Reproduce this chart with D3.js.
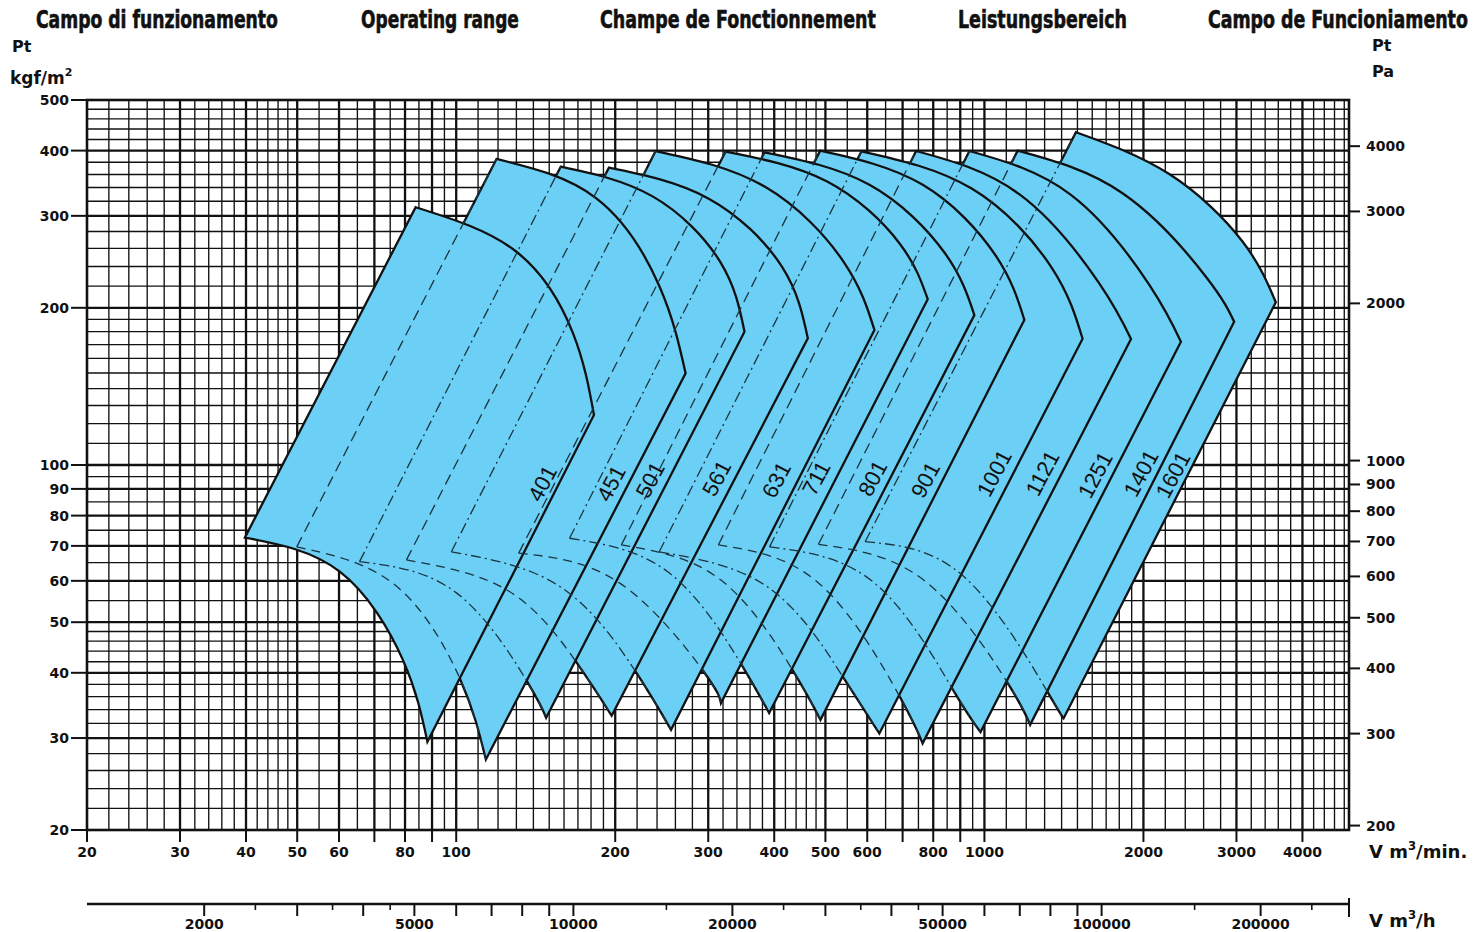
<!DOCTYPE html>
<html>
<head>
<meta charset="utf-8">
<title>Campo di funzionamento</title>
<script src="https://d3js.org/d3.v7.min.js"></script>
<style>
body {margin:0; background:#fff;}
svg text {fill:#111;}
.num {font-family:"DejaVu Sans", sans-serif; font-weight:bold; font-size:14px;}
.unit {font-family:"DejaVu Sans", sans-serif; font-weight:bold;}
.title {font-family:"Liberation Sans Narrow","DejaVu Sans Condensed","Liberation Sans",sans-serif; font-weight:bold; font-size:24px; stroke:#111; stroke-width:0.6px;}
.size {font-family:"Liberation Sans",Arial,sans-serif; font-size:22px;}
</style>
</head>
<body>
<svg id="chart" width="1474" height="932"></svg>
<script>
// fan sizes, front (401) to back (1601)
var sizes = ["401","451","501","561","631","711","801","901","1001","1121","1251","1401","1601"];

// corners of each operating field, [V m3/min, pt kgf/m2]
var bottomLeft = [[39.8,72.6],[49.9,69.7],[65.6,65.3],[80.5,65.8],[97.9,68.2],[131.3,67.8],[163.9,72.4],
  [205.4,70.3],[242.3,68.2],[313.5,70.3],[391.9,69.7],[485.1,70.5],[594.5,71.3]];
var topLeft = [[83.8,311.6],[119.2,385.5],[157.7,372.6],[194.6,371],[238.5,399.3],[323.5,398.1],[383.4,397.1],
  [488.7,399.9],[585,398.8],[742.4,399.3],[936.6,399.3],[1155.7,399.9],[1490.3,433.7]];
var rightTip = [[182.3,124.7],[271.8,149.8],[351.4,180],[463.1,174.8],[619.1,181.4],[781,207.7],[957.1,193.7],
  [1190,189.6],[1534,174.5],[1894.5,174.3],[2355,172.2],[2970,188.1],[3561.6,205]];
var bottomTip = [[88.2,29.5],[113.8,27.3],[148,32.8],[196.9,33.1],[255.1,31.1],[317.1,35],[391.2,33.5],
  [489.3,32.5],[632.5,30.6],[763.7,29.3],[983.2,30.8],[1220.5,31.8],[1411.7,32.7]];

// points (left to right) and the lower curve
var topArc = [
  [[130,256.1],[166.4,178.7]], [[184.2,324.1],[242.7,219.5]], [[235.4,326.9],[316.5,244.4]],
  [[300.1,324],[413.6,239.8]], [[384.3,341],[541.7,244.7]], [[502.7,349.5],[690.3,265.9]],
  [[605.8,344.1],[842,254.4]], [[762.9,344.3],[1050.6,251.7]], [[947.7,338],[1340.4,238.8]],
  [[1164,330.1],[1646,223.5]], [[1458,329.1],[2050.4,221.6]], [[1826,331.4],[2626,229.4]],
  [[2238,360.7],[3075,268.5]]];
var bottomArc = [
  [[60.2,62.5],[79.3,42.3]], [[76.6,58.9],[101.5,39.1]], [[100.1,56.9],[136,38.6]],
  [[125.9,57.3],[168.3,42.1]], [[158,58.3],[217.6,40.5]], [[204,59.4],[292.6,40.5]],
  [[253.3,62.1],[346.1,41.6]], [[317.1,60.2],[434.5,40.3]], [[391.5,58.1],[538.6,39.4]],
  [[489.3,59],[690.3,36.1]], [[620.8,59.3],[868,37.4]], [[769.4,60.1],[1100.4,38.6]],
  [[916.4,61],[1309.6,37.1]]];

var labelPos = [[145.7,92.2],[196.6,92.2],[233,93.6],[311.5,94.3],[404,93.6],[480.9,94.3],[614.8,94.3],
  [773.1,93.6],[1044.3,96.4],[1288.7,96.4],[1621.2,95.7],[1980.8,96.4],[2277,95.7]];

var titles = ["Campo di funzionamento","Operating range","Champe de Fonctionnement","Leistungsbereich","Campo de Funcioniamento"];
var titleLeft = [36, 361, 600, 958, 1208];
var titleWidth = [242, 158, 276, 169, 260];

var xTicks = [20,30,40,50,60,70,80,90,100,200,300,400,500,600,700,800,900,1000,2000,3000,4000];
var xLabels = [20,30,40,50,60,80,100,200,300,400,500,600,800,1000,2000,3000,4000];
var yTicks = [20,30,40,50,60,70,80,90,100,200,300,400,500];
var paTicks = [200,300,400,500,600,700,800,900,1000,2000,3000,4000];
var hourLabels = [2000,5000,10000,20000,50000,100000,200000];
var hourTicks = [3000,4000,6000,7000,8000,9000,30000,40000,60000,70000,80000,90000];
var hourMinor = [2500,3500,4500,15000,25000,35000,45000,150000,250000];
var gridSteps = [[20,50,2],[50,100,5],[100,200,10],[200,500,20],[500,1000,50],[1000,2000,100],[2000,5000,200]];

var blue = "#6ccff5";
var svg = d3.select("#chart");

var x = d3.scaleLog().domain([20, 4900]).range([87, 1349]);
var y = d3.scaleLog().domain([20, 500]).range([830, 100]);
var xh = d3.scaleLog().domain([20 * 60, 4900 * 60]).range([87, 1349]);
var yPa = d3.scaleLog().domain([20 * 9.80665, 500 * 9.80665]).range([830, 100]);

function gridValues(lo, hi) {
  var v = [];
  gridSteps.forEach(function(s) {
    d3.range(s[0], s[1], s[2]).forEach(function(t) { if (t > lo && t < hi) v.push(t); });
  });
  return v;
}
function isMajor(t) {
  var m = t / Math.pow(10, Math.floor(Math.log10(t) + 1e-9));
  return Math.abs(m - Math.round(m)) < 1e-6;
}

// grid
var grid = svg.append("g");
grid.selectAll(".vg").data(gridValues(20, 4900)).enter().append("line")
  .attr("x1", function(d) { return x(d); }).attr("x2", function(d) { return x(d); })
  .attr("y1", y(20)).attr("y2", y(500))
  .attr("stroke", "#111")
  .attr("stroke-width", function(d) { return isMajor(d) ? 2.3 : 1.35; });
grid.selectAll(".hg").data(gridValues(20, 500)).enter().append("line")
  .attr("y1", function(d) { return y(d); }).attr("y2", function(d) { return y(d); })
  .attr("x1", x(20)).attr("x2", x(4900))
  .attr("stroke", "#111")
  .attr("stroke-width", function(d) { return isMajor(d) ? 2.3 : 1.35; });
grid.append("rect")
  .attr("x", x(20)).attr("y", y(500))
  .attr("width", x(4900) - x(20)).attr("height", y(20) - y(500))
  .attr("fill", "none").attr("stroke", "#111").attr("stroke-width", 2.6);

// operating fields
var arcLine = d3.line()
  .x(function(d) { return x(d[0]); })
  .y(function(d) { return y(d[1]); })
  .curve(d3.curveNatural);

function shapePath(i) {
  var top = arcLine([topLeft[i]].concat(topArc[i], [rightTip[i]]));
  var bottom = arcLine([bottomTip[i], bottomArc[i][1], bottomArc[i][0], bottomLeft[i]]);
  return top + "L" + bottom.slice(1) + "Z";
}

var order = d3.range(sizes.length).reverse();
svg.append("g").selectAll("path").data(order).enter().append("path")
  .attr("d", shapePath)
  .attr("fill", blue)
  .attr("stroke", "#111")
  .attr("stroke-width", 2.3)
  .attr("stroke-linejoin", "miter");

// hidden edges
var hidden = svg.append("g").attr("fill", "none").attr("stroke", "#1b3440").attr("stroke-width", 1.3);
hidden.selectAll(".le").data(d3.range(1, sizes.length)).enter().append("line")
  .attr("x1", function(i) { return x(bottomLeft[i][0]); })
  .attr("y1", function(i) { return y(bottomLeft[i][1]); })
  .attr("x2", function(i) { return x(topLeft[i][0]); })
  .attr("y2", function(i) { return y(topLeft[i][1]); })
  .attr("stroke-dasharray", function(i) { return i % 2 ? "11,6" : "11,4,2,4"; });
hidden.selectAll(".ba").data(d3.range(1, sizes.length)).enter().append("path")
  .attr("d", function(i) { return arcLine([bottomLeft[i], bottomArc[i][0], bottomArc[i][1], bottomTip[i]]); })
  .attr("stroke-dasharray", function(i) { return i % 2 ? "9,6" : "10,4,2,4"; });

// size labels
svg.append("g").selectAll("text").data(sizes).enter().append("text")
  .attr("class", "size")
  .attr("text-anchor", "middle")
  .attr("dominant-baseline", "central")
  .attr("transform", function(d, i) {
    return "translate(" + x(labelPos[i][0]) + "," + y(labelPos[i][1]) + ") rotate(-62)";
  })
  .text(function(d) { return d; });

// V m3/min axis
var bx = svg.append("g");
bx.selectAll("line").data(xTicks).enter().append("line")
  .attr("x1", function(d) { return x(d); }).attr("x2", function(d) { return x(d); })
  .attr("y1", y(20)).attr("y2", y(20) + 12)
  .attr("stroke", "#111").attr("stroke-width", 2);
bx.selectAll("text").data(xLabels).enter().append("text")
  .attr("class", "num")
  .attr("text-anchor", "middle")
  .attr("x", function(d) { return x(d); })
  .attr("y", 857)
  .text(function(d) { return d; });

// pt kgf/m2 axis
var ly = svg.append("g");
ly.selectAll("line").data(yTicks).enter().append("line")
  .attr("x1", x(20) - 16).attr("x2", x(20))
  .attr("y1", function(d) { return y(d); }).attr("y2", function(d) { return y(d); })
  .attr("stroke", "#111").attr("stroke-width", 2);
ly.selectAll("text").data(yTicks).enter().append("text")
  .attr("class", "num")
  .attr("text-anchor", "end")
  .attr("dominant-baseline", "central")
  .attr("x", x(20) - 18)
  .attr("y", function(d) { return y(d); })
  .text(function(d) { return d; });

// pt Pa axis
var ry = svg.append("g");
ry.selectAll("line").data(paTicks).enter().append("line")
  .attr("x1", x(4900)).attr("x2", x(4900) + 11)
  .attr("y1", function(d) { return yPa(d); }).attr("y2", function(d) { return yPa(d); })
  .attr("stroke", "#111").attr("stroke-width", 2);
ry.selectAll("text").data(paTicks).enter().append("text")
  .attr("class", "num")
  .attr("dominant-baseline", "central")
  .attr("x", x(4900) + 17)
  .attr("y", function(d) { return yPa(d); })
  .text(function(d) { return d; });

// V m3/h axis
var hy = 904;
var hx = svg.append("g");
hx.append("line").attr("x1", xh(1200)).attr("x2", xh(294000)).attr("y1", hy).attr("y2", hy)
  .attr("stroke", "#111").attr("stroke-width", 2.5);
hx.append("line").attr("x1", xh(294000)).attr("x2", xh(294000)).attr("y1", hy - 6).attr("y2", hy + 13)
  .attr("stroke", "#111").attr("stroke-width", 2);
hx.selectAll(".t").data(hourLabels.concat(hourTicks)).enter().append("line")
  .attr("x1", function(d) { return xh(d); }).attr("x2", function(d) { return xh(d); })
  .attr("y1", hy).attr("y2", hy + 12)
  .attr("stroke", "#111").attr("stroke-width", 2);
hx.selectAll(".m").data(hourMinor).enter().append("line")
  .attr("x1", function(d) { return xh(d); }).attr("x2", function(d) { return xh(d); })
  .attr("y1", hy).attr("y2", hy + 6)
  .attr("stroke", "#111").attr("stroke-width", 1.6);
hx.selectAll("text").data(hourLabels).enter().append("text")
  .attr("class", "num")
  .attr("text-anchor", "middle")
  .attr("dominant-baseline", "central")
  .attr("x", function(d) { return xh(d); })
  .attr("y", 924)
  .text(function(d) { return d; });

// titles, squeezed horizontally to the widths of the original lettering
svg.append("g").selectAll("text").data(titles).enter().append("text")
  .attr("class", "title")
  .attr("x", 0)
  .attr("y", 0)
  .text(function(d) { return d; })
  .attr("transform", function(d, i) {
    var w = this.getComputedTextLength();
    return "translate(" + titleLeft[i] + ",28) scale(" + (titleWidth[i] / w) + ",1)";
  });

// unit labels
function unitText(px, py, size, parts) {
  var t = svg.append("text").attr("class", "unit").attr("x", px).attr("y", py).style("font-size", size + "px");
  parts.forEach(function(p) {
    var s = t.append("tspan").text(p[0]);
    if (p[1] === "sup") s.attr("dy", -size * 0.45).style("font-size", (size * 0.65) + "px");
    if (p[1] === "back") s.attr("dy", size * 0.45);
  });
  return t;
}
unitText(12, 52, 16, [["Pt"]]);
unitText(10, 84, 17, [["kgf/m"], ["2", "sup"]]);
unitText(1372, 51, 16, [["Pt"]]);
unitText(1372, 77, 16, [["Pa"]]);
unitText(1369, 858, 18, [["V  m"], ["3", "sup"], ["/min.", "back"]]);
unitText(1369, 927, 18, [["V  m"], ["3", "sup"], ["/h", "back"]]);
</script>
</body>
</html>
